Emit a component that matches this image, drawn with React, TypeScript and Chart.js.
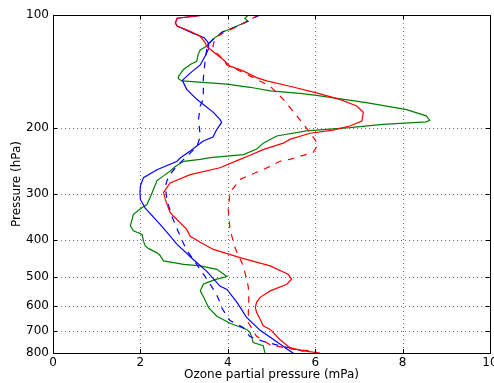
import React, { useEffect, useRef } from 'react';
import { Chart, registerables } from 'chart.js';

Chart.register(...registerables);

// Each profile: [pressure (hPa), ozone partial pressure (mPa)]
const blueSolid: [number, number][] = [
  [100, 3.48], [102, 2.84], [105, 2.8], [107, 2.84], [112, 3.21], [115, 3.46], [118.5, 3.55],
  [123, 3.56], [127.5, 3.5], [136, 3.37], [143, 3.14], [149.5, 2.96], [158, 3.06], [168, 3.29],
  [182, 3.67], [190, 3.82], [193.6, 3.86], [202, 3.75], [212, 3.66], [217, 3.44], [231, 3.14],
  [241, 2.91], [246, 2.84], [259, 2.38], [272, 2.07], [286, 2.0], [298, 1.99], [311, 2.0],
  [328, 2.11], [358, 2.41], [381, 2.61], [410, 2.84], [450, 3.21], [484, 3.52], [530, 3.82],
  [541, 3.98], [586, 4.21], [624, 4.36], [643, 4.43], [696, 4.74], [747, 5.12], [790, 5.42],
  [800, 5.5],
];

const blueDashed: [number, number][] = [
  [100, 4.74], [103, 4.51], [107, 4.24], [111, 3.87], [118, 3.6], [123, 3.52], [133, 3.48],
  [147.5, 3.44], [168, 3.44], [175, 3.37], [190, 3.33], [211, 3.37], [225, 3.29], [243, 2.99],
  [253, 2.84], [270, 2.64], [287, 2.57], [313, 2.61], [345, 2.72], [390, 2.91], [423, 3.05],
  [450, 3.21], [508, 3.52], [541, 3.67], [561, 3.75], [585, 3.82], [606, 3.86], [655, 4.05],
  [685, 4.36], [722, 4.5], [745, 4.81], [765, 5.19], [786, 5.65], [800, 5.81],
];

const redSolid: [number, number][] = [
  [100, 3.48], [102, 2.84], [105, 2.8], [107, 2.84], [110.5, 3.14], [114, 3.37], [118.5, 3.48],
  [121.4, 3.52], [131.5, 3.89], [137, 4.05], [141, 4.35], [147, 4.66], [150, 4.89], [155, 5.42],
  [161.5, 6.03], [168, 6.56], [175, 6.95], [182, 7.1], [192, 7.07], [198, 6.79], [203, 6.41],
  [207, 5.88], [215, 5.42], [220, 5.27], [229, 4.81], [237, 4.51], [243, 4.28], [256, 3.82],
  [267, 3.14], [281, 2.68], [298, 2.53], [311, 2.57], [337, 2.68], [345, 2.76], [374, 3.06],
  [390, 3.14], [405, 3.37], [423, 3.67], [445, 4.28], [468, 4.97], [493, 5.38], [508, 5.46],
  [524, 5.35], [546, 4.97], [568, 4.74], [585, 4.66], [604, 4.63], [624, 4.66], [650, 4.74],
  [677, 4.81], [692, 4.97], [736, 5.19], [774, 5.42], [790, 5.73], [800, 6.11],
];

const redDashed: [number, number][] = [
  [100, 4.69], [103, 4.51], [107, 4.24], [111, 3.94], [115, 3.71], [121, 3.66], [125, 3.71],
  [130, 3.86], [136, 3.98], [144, 4.43], [155, 4.97], [168, 5.27], [186, 5.58], [206, 5.88],
  [222, 6.07], [233, 5.95], [243, 5.42], [246, 5.19], [259, 4.81], [270, 4.43], [275, 4.28],
  [286, 4.17], [298, 4.05], [331, 4.01], [374, 4.05], [420, 4.17], [470, 4.36], [533, 4.47],
  [575, 4.48], [624, 4.47], [663, 4.47], [720, 4.65], [761, 4.97], [782, 5.5], [790, 5.95],
  [800, 6.06],
];

const greenSolid: [number, number][] = [
  [100, 4.47], [102, 4.39], [104, 4.46], [107, 4.21], [111, 3.89], [116, 3.66], [121, 3.52],
  [124, 3.37], [127.5, 3.32], [133, 3.29], [135.6, 3.14], [140, 2.98], [146, 2.87], [148, 2.87],
  [150, 2.95], [153, 3.98], [156, 4.51], [159.5, 4.97], [162, 5.65], [164, 6.03], [171.5, 7.17],
  [179, 8.09], [186, 8.54], [191, 8.62], [193, 8.54], [196, 7.55], [200, 6.79], [204, 5.8],
  [210.5, 5.12], [220, 4.81], [228, 4.66], [236, 4.36], [240.5, 3.6], [243, 3.37], [246, 2.99],
  [254, 2.8], [259, 2.72], [267, 2.57], [277, 2.38], [292, 2.3], [306, 2.23], [321, 2.15],
  [327, 2.04], [341, 1.84], [366, 1.77], [377, 1.84], [386, 2.04], [402, 2.07], [414, 2.11],
  [421, 2.19], [432, 2.38], [439, 2.45], [454, 2.53], [464, 2.99], [468, 3.37], [478, 3.75],
  [500, 3.98], [508, 3.75], [519, 3.52], [524, 3.44], [546, 3.37], [565, 3.44], [578, 3.48],
  [605, 3.56], [638, 3.75], [666, 4.05], [692, 4.43], [706, 4.51], [727, 4.55], [750, 4.58],
  [765, 4.81], [800, 4.85],
];

const xTicks = [0, 2, 4, 6, 8, 10];
const yTicks = [100, 200, 300, 400, 500, 600, 700, 800];

const FONT = { family: "'DejaVu Sans', sans-serif", size: 12 };

const toPoints = (arr: [number, number][]) => arr.map(([p, o]) => ({ x: o, y: p }));

const framePlugin = {
  id: 'mplFrame',
  beforeDatasetsDraw(chart: any) {
    const { ctx, chartArea: a, scales } = chart;
    ctx.save();
    ctx.strokeStyle = 'rgba(0,0,0,0.55)';
    ctx.lineWidth = 1;
    ctx.setLineDash([1, 3]);
    ctx.beginPath();
    for (const v of xTicks) {
      const px = Math.round(scales.x.getPixelForValue(v)) + 0.5;
      if (px <= a.left + 1 || px >= a.right - 1) continue;
      ctx.moveTo(px, a.top);
      ctx.lineTo(px, a.bottom);
    }
    for (const v of yTicks) {
      const py = Math.round(scales.y.getPixelForValue(v)) + 0.5;
      if (py <= a.top + 1 || py >= a.bottom - 1) continue;
      ctx.moveTo(a.left, py);
      ctx.lineTo(a.right, py);
    }
    ctx.stroke();
    ctx.restore();
  },
  afterDraw(chart: any) {
    const { ctx, chartArea: a, scales } = chart;
    ctx.save();
    ctx.strokeStyle = '#000';
    ctx.lineWidth = 1;
    ctx.setLineDash([]);
    ctx.beginPath();
    for (const v of xTicks) {
      const px = Math.round(scales.x.getPixelForValue(v)) + 0.5;
      ctx.moveTo(px, a.bottom);
      ctx.lineTo(px, a.bottom - 4);
      ctx.moveTo(px, a.top);
      ctx.lineTo(px, a.top + 4);
    }
    for (const v of yTicks) {
      const py = Math.round(scales.y.getPixelForValue(v)) + 0.5;
      ctx.moveTo(a.left, py);
      ctx.lineTo(a.left + 4, py);
      ctx.moveTo(a.right, py);
      ctx.lineTo(a.right - 4, py);
    }
    ctx.stroke();
    ctx.strokeRect(Math.round(a.left) + 0.5, Math.round(a.top) + 0.5,
      Math.round(a.right - a.left), Math.round(a.bottom - a.top));
    ctx.restore();
  },
};

export default function App() {
  const ref = useRef<HTMLCanvasElement | null>(null);

  useEffect(() => {
    if (!ref.current) return;
    const line = (data: [number, number][], color: string, dashed: boolean) => ({
      data: toPoints(data),
      borderColor: color,
      backgroundColor: color,
      borderWidth: 1.2,
      borderDash: dashed ? [6.5, 6.5] : [],
      pointRadius: 0,
      showLine: true,
      fill: false,
      tension: 0,
    });
    const chart = new Chart(ref.current, {
      type: 'scatter',
      data: {
        datasets: [
          line(redSolid, '#ff0000', false),
          line(redDashed, '#ff0000', true),
          line(blueSolid, '#0000ff', false),
          line(blueDashed, '#0000ff', true),
          line(greenSolid, '#008000', false),
        ],
      },
      plugins: [framePlugin],
      options: {
        animation: false,
        responsive: false,
        events: [],
        layout: { padding: { left: 0, right: 4, top: 15, bottom: 0 } },
        plugins: { legend: { display: false }, tooltip: { enabled: false } },
        scales: {
          x: {
            type: 'linear',
            min: 0,
            max: 10,
            grid: { display: false, drawTicks: false },
            border: { display: false },
            ticks: { stepSize: 2, padding: 3, maxRotation: 0, color: '#000', font: FONT },
            title: {
              display: true,
              text: 'Ozone partial pressure (mPa)',
              color: '#000',
              font: FONT,
              padding: { top: 0, bottom: 1 },
            },
            afterFit: (s: any) => {
              s.height = 30;
              s.paddingLeft = 0;
              s.paddingRight = 0;
            },
          },
          y: {
            type: 'logarithmic',
            reverse: true,
            min: 100,
            max: 800,
            grid: { display: false, drawTicks: false },
            border: { display: false },
            afterBuildTicks: (s: any) => {
              s.ticks = yTicks.map((v) => ({ value: v }));
            },
            ticks: {
              autoSkip: false,
              padding: 4,
              color: '#000',
              font: FONT,
              callback: (v: any) => String(v),
            },
            title: {
              display: true,
              text: 'Pressure (hPa)',
              color: '#000',
              font: FONT,
              padding: { top: 10, bottom: 0 },
            },
            afterFit: (s: any) => {
              s.width = 53;
              s.paddingTop = 0;
              s.paddingBottom = 0;
            },
          },
        },
      },
    });
    return () => chart.destroy();
  }, []);

  return (
    <div style={{ position: 'fixed', left: 0, top: 0, width: 494, height: 383, background: '#fff' }}>
      <canvas ref={ref} width={494} height={383} style={{ display: 'block' }} />
    </div>
  );
}
